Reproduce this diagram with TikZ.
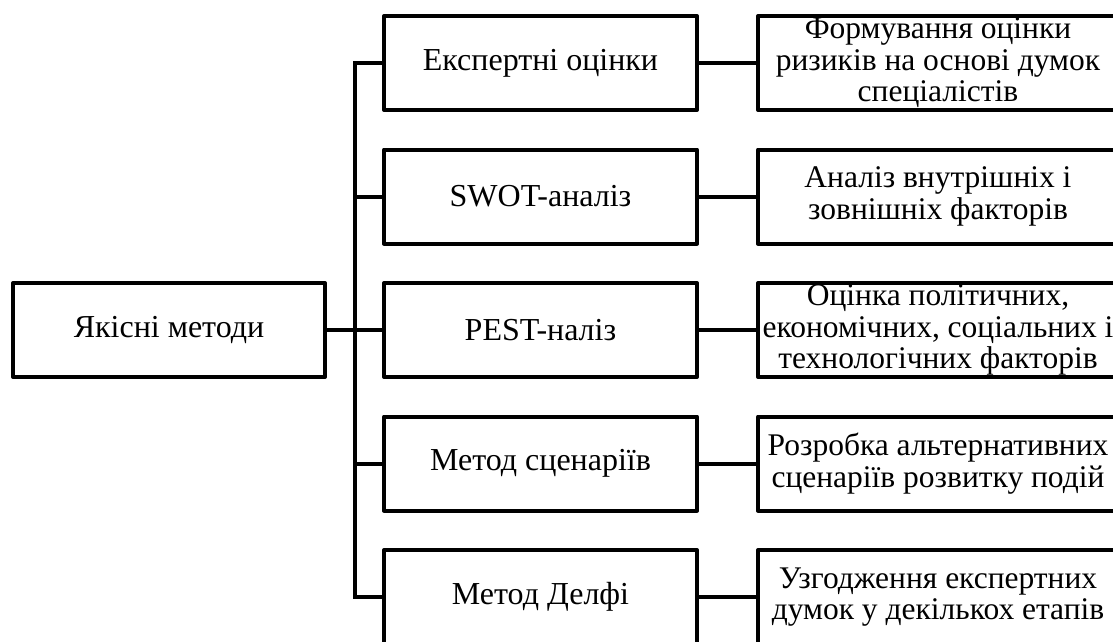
\documentclass[tikz,border=0pt]{standalone}
\usepackage{fontspec}
\setmainfont{Liberation Serif}
\begin{document}
\begin{tikzpicture}[x=1pt,y=-1pt,
  box/.style={draw=black, line width=4pt, line join=round, fill=white, inner sep=0pt,
    align=center, font=\fontsize{32}{32}\selectfont},
  leftbox/.style={box, minimum width=312pt, minimum height=94pt},
  midbox/.style={box, minimum width=313pt, minimum height=94pt},
  rightbox/.style={box, minimum width=360pt, minimum height=94pt, font=\fontsize{31.5}{31.5}\selectfont},
  conn/.style={draw=black, line width=4pt}]
\clip (0,0) rectangle (1113,641);
\fill[white] (0,0) rectangle (1113,641);

\node[leftbox] (L) at (169,330) {Якісні методи};

\node[midbox] (m1) at (540.5,63) {Експертні оцінки};
\node[midbox] (m2) at (540.5,196.5) {SWOT-аналіз};
\node[midbox] (m3) at (540.5,330) {PEST-наліз};
\node[midbox] (m4) at (540.5,463.5) {Метод сценаріїв};
\node[midbox] (m5) at (540.5,597) {Метод Делфі};

\node[rightbox] (r1) at (938,63) {Формування оцінки\\ризиків на основі думок\\спеціалістів};
\node[rightbox] (r2) at (938,196.5) {Аналіз внутрішніх і\\зовнішніх факторів};
\node[rightbox] (r3) at (938,330) {Оцінка політичних,\\економічних, соціальних і\\технологічних факторів};
\node[rightbox] (r4) at (938,463.5) {Розробка альтернативних\\сценаріїв розвитку подій};
\node[rightbox] (r5) at (938,597) {Узгодження експертних\\думок у декількох етапів};

\coordinate (b1) at (355,63);
\coordinate (b2) at (355,196.5);
\coordinate (b3) at (355,330);
\coordinate (b4) at (355,463.5);
\coordinate (b5) at (355,597);

\draw[conn] ([yshift=2pt]b1) -- ([yshift=-2pt]b5);
\draw[conn] (L.east) -- (b3);
\foreach \i in {1,...,5}{
  \draw[conn] (b\i) -- (m\i.west);
  \draw[conn] (m\i.east) -- (r\i.west);
}
\end{tikzpicture}
\end{document}
